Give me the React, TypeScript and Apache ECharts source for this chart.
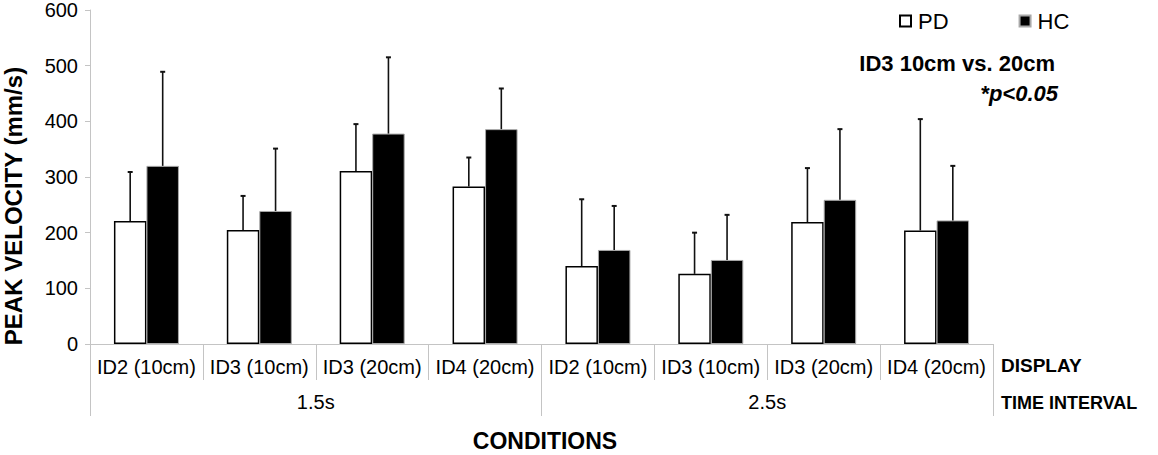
import React, { useEffect, useRef } from "react";
import * as echarts from "echarts";

const categories = [
  "ID2 (10cm)", "ID3 (10cm)", "ID3 (20cm)", "ID4 (20cm)",
  "ID2 (10cm)", "ID3 (10cm)", "ID3 (20cm)", "ID4 (20cm)",
];
const timeIntervals = ["1.5s", "2.5s"];
const pdMean = [221, 205, 311, 283, 140, 126, 219, 204];
const pdErrTop = [309, 266, 395, 335, 260, 200, 316, 404];
const hcMean = [320, 239, 378, 386, 169, 151, 259, 222];
const hcErrTop = [489, 351, 515, 459, 248, 232, 386, 320];
const yTicks = { min: 0, max: 600, interval: 100 };

const FONT = '"Liberation Sans", Arial, Helvetica, sans-serif';
const AXIS_GRAY = "#c4c4c4";

export default function App() {
  const ref = useRef<HTMLDivElement>(null);
  useEffect(() => {
    document.body.style.margin = "0";
    if (!ref.current) return;
    const chart = echarts.init(ref.current, null, { renderer: "svg" });
    const errData: number[][] = [];
    pdMean.forEach((v, i) => errData.push([i, v, pdErrTop[i], -1]));
    hcMean.forEach((v, i) => errData.push([i, v, hcErrTop[i], 1]));
    const BAR_W = 32.5;
    chart.setOption({
      animation: false,
      textStyle: { fontFamily: FONT },
      grid: { left: 90, right: 165, top: 10, bottom: 111, containLabel: false },
      legend: {
        left: 894,
        top: 5,
        icon: "rect",
        itemWidth: 11,
        itemHeight: 11,
        itemGap: 70,
        data: ["PD", "HC"],
        textStyle: { fontSize: 22, color: "#000", fontFamily: FONT, padding: [0, 0, 0, 2] },
      },
      xAxis: [
        {
          type: "category",
          data: categories,
          position: "bottom",
          axisLine: { show: true, lineStyle: { color: AXIS_GRAY, width: 1 } },
          axisTick: { show: true, length: 36, lineStyle: { color: AXIS_GRAY } },
          axisLabel: { margin: 13, fontSize: 20, color: "#000", fontFamily: FONT, interval: 0 },
        },
        {
          type: "category",
          data: timeIntervals,
          position: "bottom",
          axisLine: { show: false },
          axisTick: { show: true, length: 72, lineStyle: { color: AXIS_GRAY } },
          axisLabel: { margin: 48, fontSize: 20, color: "#000", fontFamily: FONT, interval: 0 },
        },
      ],
      yAxis: {
        type: "value",
        min: yTicks.min,
        max: yTicks.max,
        interval: yTicks.interval,
        axisLine: { show: true, lineStyle: { color: AXIS_GRAY } },
        axisTick: { show: true, length: 5, lineStyle: { color: AXIS_GRAY } },
        splitLine: { show: false },
        axisLabel: { margin: 12, fontSize: 20, color: "#000", fontFamily: FONT },
      },
      series: [
        {
          name: "PD",
          type: "bar",
          data: pdMean,
          barWidth: BAR_W,
          barGap: "0%",
          itemStyle: { color: "#ffffff", borderColor: "#000", borderWidth: 1.5 },
        },
        {
          name: "HC",
          type: "bar",
          data: hcMean,
          barWidth: BAR_W,
          barGap: "0%",
          itemStyle: { color: "#000000", borderColor: "#a8a8a8", borderWidth: 1 },
        },
        {
          type: "custom",
          z: 5,
          data: errData,
          renderItem: (params: any, api: any) => {
            const base = api.coord([api.value(0), api.value(1)]);
            const top = api.coord([api.value(0), api.value(2)]);
            const x = base[0] + api.value(3) * (BAR_W / 2);
            return {
              type: "group",
              children: [
                {
                  type: "line",
                  shape: { x1: x, y1: base[1], x2: x, y2: top[1] },
                  style: { stroke: "#111", lineWidth: 1.6 },
                },
                {
                  type: "line",
                  shape: { x1: x - 2.5, y1: top[1], x2: x + 2.5, y2: top[1] },
                  style: { stroke: "#111", lineWidth: 2 },
                },
              ],
            };
          },
        },
      ],
      graphic: [
        {
          type: "text",
          x: 13,
          y: 206,
          rotation: Math.PI / 2,
          style: {
            text: "PEAK VELOCITY (mm/s)",
            font: `bold 24px ${FONT}`,
            fill: "#000",
            align: "center",
            verticalAlign: "middle",
          },
        },
        {
          type: "text",
          x: 545,
          y: 441,
          style: {
            text: "CONDITIONS",
            font: `bold 23px ${FONT}`,
            fill: "#000",
            align: "center",
            verticalAlign: "middle",
          },
        },
        {
          type: "text",
          x: 1001,
          y: 365,
          style: {
            text: "DISPLAY",
            font: `bold 19px ${FONT}`,
            fill: "#000",
            align: "left",
            verticalAlign: "middle",
          },
        },
        {
          type: "text",
          x: 1001,
          y: 403,
          style: {
            text: "TIME INTERVAL",
            font: `bold 18px ${FONT}`,
            fill: "#000",
            align: "left",
            verticalAlign: "middle",
          },
        },
        {
          type: "text",
          x: 1055,
          y: 63,
          style: {
            text: "ID3 10cm vs. 20cm",
            font: `bold 22px ${FONT}`,
            fill: "#000",
            align: "right",
            verticalAlign: "middle",
          },
        },
        {
          type: "text",
          x: 1058,
          y: 93,
          style: {
            text: "*p<0.05",
            font: `italic bold 22px ${FONT}`,
            fill: "#000",
            align: "right",
            verticalAlign: "middle",
          },
        },
      ],
    });
    return () => chart.dispose();
  }, []);
  return <div ref={ref} style={{ width: 1158, height: 455 }} />;
}
